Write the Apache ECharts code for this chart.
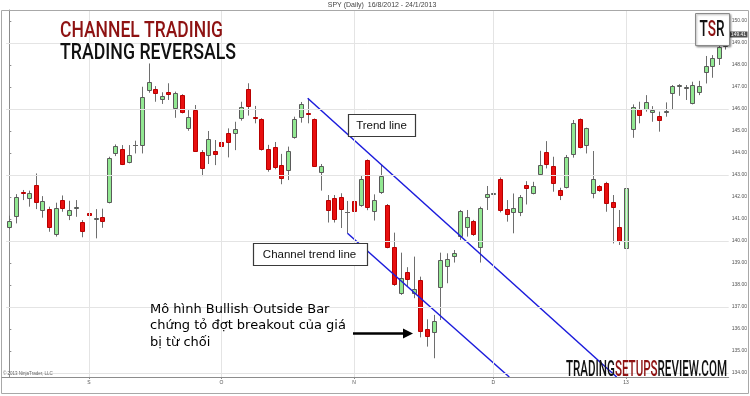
<!DOCTYPE html>
<html><head><meta charset="utf-8">
<script src="https://cdn.jsdelivr.net/npm/echarts@6/dist/echarts.min.js"></script>
<style>html,body{margin:0;padding:0;background:#fff}#c{width:750px;height:396px}</style>
</head><body><div id="c"></div>
<script>
// ---- data (SPY daily, 16/8/2012 - 24/1/2013) ----
const opens = [140.62,141.15,142.24,141.97,142.53,141.41,141.47,140.30,141.86,141.18,141.51,140.88,141.29,141.02,141.07,141.76,144.01,144.18,143.57,144.37,
144.36,146.86,146.91,146.47,146.77,146.03,146.65,145.12,145.95,144.06,143.89,144.09,144.50,144.91,144.89,145.60,146.91,145.62,145.53,144.18,
144.29,143.46,143.23,144.74,145.62,145.80,145.55,143.15,141.87,141.94,142.02,141.32,141.84,141.65,143.68,141.37,142.21,141.64,139.71,137.62,
138.58,137.62,138.23,136.00,135.88,137.90,138.88,139.32,140.23,140.65,140.91,139.74,141.99,142.12,142.80,141.45,141.33,141.33,142.54,142.16,
143.03,144.03,143.42,142.33,142.44,143.97,145.53,144.36,142.16,142.48,142.65,141.79,140.65,139.66,145.09,145.98,146.00,145.85,145.69,145.88,
146.71,147.03,146.94,146.27,146.75,147.66,147.97,148.33,148.85];
const highs = [141.15,142.13,142.32,142.29,143.07,142.04,141.56,141.74,142.07,141.83,141.86,140.95,141.82,141.45,141.47,143.83,144.39,144.36,144.36,144.56,
147.01,148.07,147.04,146.76,147.17,146.79,146.67,145.95,146.18,144.13,145.00,144.59,145.68,145.12,145.42,146.33,147.17,146.14,145.58,144.37,
144.50,143.96,144.29,145.65,146.32,146.49,145.57,143.50,142.09,142.09,142.17,141.82,142.05,143.00,143.71,142.12,143.46,141.68,140.38,139.47,
138.81,139.29,138.38,136.44,136.64,139.47,139.44,139.59,141.41,141.41,140.96,141.56,142.50,142.39,142.89,141.86,142.16,142.09,142.72,142.69,
144.10,144.54,143.83,142.42,143.91,145.50,145.57,145.15,144.09,142.54,142.69,142.09,141.41,142.57,146.21,146.33,146.63,146.13,145.88,146.30,
147.09,147.13,147.09,147.24,147.28,148.41,148.45,149.14,149.50];
const lows = [140.54,140.80,141.86,141.56,141.45,141.06,140.42,140.20,141.33,140.95,141.10,140.17,140.35,140.12,140.60,141.71,143.86,143.45,143.53,143.98,
143.98,146.74,146.33,146.23,146.41,145.60,145.80,145.01,144.06,142.95,143.50,143.45,144.03,143.80,144.13,145.47,145.70,145.35,144.11,143.15,
143.26,142.58,142.77,144.65,145.38,145.35,143.38,142.29,140.84,140.84,140.59,140.35,140.68,141.56,141.40,140.93,142.14,139.67,137.96,137.55,
137.93,137.40,135.62,135.20,134.67,136.41,138.08,139.02,140.05,140.20,140.23,139.02,141.41,141.63,141.30,140.88,140.35,141.13,141.66,142.12,
142.97,143.30,142.24,141.86,142.39,143.79,144.21,143.98,141.94,142.24,141.33,139.89,139.82,139.54,144.69,145.35,145.88,145.42,144.97,145.65,
145.98,146.60,146.41,146.21,146.63,147.16,147.42,148.00,148.70];
const closes = [140.92,142.00,142.16,142.20,141.76,141.80,140.65,141.51,141.51,141.41,141.54,140.47,141.17,141.03,140.89,143.76,144.33,143.50,143.91,144.38,
146.56,147.21,146.74,146.60,146.68,146.71,145.85,145.63,144.09,143.30,144.62,143.97,144.33,144.48,145.09,146.10,146.12,145.60,144.17,143.26,
143.35,142.88,144.11,145.55,146.23,145.79,143.41,143.41,141.41,141.02,141.44,141.31,141.37,142.84,141.56,141.87,142.96,139.71,138.03,138.31,
138.26,137.81,135.93,135.70,136.38,139.14,139.18,139.47,141.38,141.08,140.30,141.49,142.14,142.16,141.41,141.22,141.51,142.01,142.39,142.50,
143.45,143.48,142.62,142.09,143.83,145.38,144.27,145.12,142.80,142.33,141.74,141.56,140.00,142.42,146.07,145.72,146.33,145.97,145.51,145.91,
147.06,147.07,147.01,147.09,147.06,147.97,148.33,148.83,149.41];
const categories = opens.map((_, i) => 'bar' + (i + 1));
const xTickIndex = [12, 32, 52, 73, 93];
const xTickLabels = ['S', 'O', 'N', 'D', '13'];
const yTickValues = [134,135,136,137,138,139,140,141,142,143,144,145,146,147,148,149,150];
const yGridValues = [149, 146, 143, 140, 137, 134];
// trend lines: [bar index, price]
const trendLine = [[45, 146.49], [91.6, 133.82]];
const channelLine = [[51, 140.35], [75.4, 133.82]];
const lastPrice = closes[closes.length - 1];

const ohlc = opens.map((o, i) => [i, o, closes[i], lows[i], highs[i]]);
const N = opens.length;

const chart = echarts.init(document.getElementById('c'), null, {renderer: 'canvas'});

function renderCandle(params, api) {
  const i = api.value(0), o = api.value(1), c = api.value(2), l = api.value(3), h = api.value(4);
  const po = api.coord([i, o]), pc = api.coord([i, c]);
  const yl = api.coord([i, l])[1], yh = api.coord([i, h])[1];
  const cx = Math.round(po[0]);
  const up = c >= o;
  const children = [{type: 'line', shape: {x1: cx + 0.5, y1: yh, x2: cx + 0.5, y2: yl},
    style: {stroke: '#6e6e6e', lineWidth: 1}}];
  const top = Math.round(Math.min(po[1], pc[1])), bot = Math.round(Math.max(po[1], pc[1]));
  if (bot - top < 1) {
    children.push({type: 'line', shape: {x1: cx - 2, y1: top + 0.5, x2: cx + 3, y2: top + 0.5},
      style: {stroke: '#666', lineWidth: 1}});
  } else {
    children.push({type: 'rect', shape: {x: cx - 2 + 0.5, y: top + 0.5, width: 4, height: bot - top},
      style: {fill: up ? '#92e892' : '#e80f0f', stroke: up ? '#5a5a5a' : '#b80000', lineWidth: 1}});
  }
  return {type: 'group', children};
}

const option = {
  animation: false,
  grid: {left: 6, right: 21, top: 10, bottom: 19},
  xAxis: [{
    type: 'category', data: categories, boundaryGap: true,
    axisLine: {show: true, lineStyle: {color: '#8c8c8c', width: 1}},
    axisTick: {show: true, alignWithLabel: true, length: 2, interval: (i) => xTickIndex.includes(i), lineStyle: {color: '#8c8c8c'}},
    axisLabel: {interval: (i) => xTickIndex.includes(i), formatter: (v, i) => { const k = xTickIndex.indexOf(i); return k >= 0 ? xTickLabels[k] : ''; },
      fontSize: 5, color: '#555', margin: 3, fontFamily: 'Liberation Sans'},
    splitLine: {show: false}
  }, {
    type: 'value', min: -0.5, max: N - 0.5, show: false
  }],
  yAxis: {
    type: 'value', position: 'right', min: 133.818, max: 150.5, scale: true,
    axisLine: {show: true, lineStyle: {color: '#8c8c8c'}},
    axisTick: {show: true, length: 2, customValues: yTickValues, lineStyle: {color: '#8c8c8c'}},
    axisLabel: {customValues: yTickValues, formatter: (v) => v.toFixed(2), fontSize: 5, color: '#555', margin: 3, fontFamily: 'Liberation Sans'},
    splitLine: {show: false}
  },
  series: [{
    type: 'line', xAxisIndex: 1, data: [], z: 1, silent: true,
    markLine: {silent: true, symbol: 'none', label: {show: false}, animation: false,
      lineStyle: {color: '#e4e4e4', type: 'solid', width: 1},
      data: yGridValues.map(v => ({yAxis: v})).concat(xTickIndex.map(i => ({xAxis: i})))}
  }, {
    type: 'custom', xAxisIndex: 0, renderItem: renderCandle, data: ohlc, z: 2,
    encode: {x: 0, y: [1, 2, 3, 4]}
  }, {
    type: 'line', xAxisIndex: 1, data: trendLine, symbol: 'none', z: 3,
    lineStyle: {color: '#1c1cdc', width: 1.5}
  }, {
    type: 'line', xAxisIndex: 1, data: channelLine, symbol: 'none', z: 3,
    lineStyle: {color: '#1c1cdc', width: 1.5}
  }]
};
chart.setOption(option);

// ---- decorations ----
const mc = document.createElement('canvas').getContext('2d');
function tw(t, font) { mc.font = font; return mc.measureText(t).width; }
const condFont = '500 22px Roboto';
function condensed(pieces, x0, yMid, target) {
  const total = pieces.reduce((s, p) => s + tw(p[0], condFont), 0);
  const s = target / total;
  let cur = x0;
  return pieces.map(p => {
    const el = {type: 'text', x: cur, y: yMid, scaleX: s, z: 100,
      style: {text: p[0], fill: p[1], font: condFont, textAlign: 'left', textVerticalAlign: 'middle'}};
    cur += tw(p[0], condFont) * s;
    return el;
  });
}
const RED = '#8e1212';
const lastY = chart.convertToPixel({yAxisIndex: 0}, lastPrice);
const annFont = '13px "DejaVu Sans"';
const boxFont = '11.5px "Liberation Sans"';
const elements = [
  {type: 'rect', shape: {x: 1.5, y: 10.5, width: 747, height: 383}, style: {fill: 'none', stroke: '#a8a8a8', lineWidth: 1}, z: 50},
  {type: 'line', shape: {x1: 1.5, y1: 377.5, x2: 729, y2: 377.5}, style: {stroke: '#8c8c8c', lineWidth: 1}, z: 50},
  {type: 'text', x: 382, y: 5, z: 50, style: {text: 'SPY (Daily)  16/8/2012 - 24/1/2013', font: '7px "Liberation Sans"', fill: '#444', textAlign: 'center', textVerticalAlign: 'middle'}},
  {type: 'text', x: 3, y: 374, z: 50, style: {text: '© 2013 NinjaTrader, LLC', font: '4.5px "Liberation Sans"', fill: '#666', textAlign: 'left', textVerticalAlign: 'middle'}},
  // last price marker on axis
  {type: 'rect', shape: {x: 729.5, y: Math.round(lastY) - 2.5, width: 18, height: 6}, style: {fill: '#505050'}, z: 60},
  {type: 'text', x: 738.5, y: Math.round(lastY) + 0.5, z: 61, style: {text: lastPrice.toFixed(2), font: '5px "Liberation Sans"', fill: '#fff', textAlign: 'center', textVerticalAlign: 'middle'}},
  // TSR logo box
  {type: 'rect', shape: {x: 695.5, y: 13.5, width: 34, height: 32}, style: {fill: '#fff', stroke: '#8a8a8a', lineWidth: 1, shadowBlur: 2, shadowOffsetX: 1, shadowOffsetY: 1, shadowColor: 'rgba(0,0,0,0.35)'}, z: 90},
  // annotation boxes
  {type: 'rect', shape: {x: 348.5, y: 114.5, width: 67, height: 22}, style: {fill: '#fff', stroke: '#3a3a3a', lineWidth: 1.2}, z: 90},
  {type: 'text', x: 381.5, y: 126, z: 91, style: {text: 'Trend line', font: boxFont, fill: '#111', textAlign: 'center', textVerticalAlign: 'middle'}},
  {type: 'rect', shape: {x: 253.5, y: 243.5, width: 114, height: 22}, style: {fill: '#fff', stroke: '#3a3a3a', lineWidth: 1.2}, z: 90},
  {type: 'text', x: 309.5, y: 255, z: 91, style: {text: 'Channel trend line', font: boxFont, fill: '#111', textAlign: 'center', textVerticalAlign: 'middle'}},
  // Vietnamese note
  {type: 'text', x: 150, y: 309.5, z: 91, style: {text: 'Mô hình Bullish Outside Bar', font: annFont, fill: '#000', textAlign: 'left', textVerticalAlign: 'middle'}},
  {type: 'text', x: 150, y: 326, z: 91, style: {text: 'chứng tỏ đợt breakout của giá', font: annFont, fill: '#000', textAlign: 'left', textVerticalAlign: 'middle'}},
  {type: 'text', x: 150, y: 342.5, z: 91, style: {text: 'bị từ chối', font: annFont, fill: '#000', textAlign: 'left', textVerticalAlign: 'middle'}},
  // arrow
  {type: 'line', shape: {x1: 353, y1: 333.5, x2: 405, y2: 333.5}, style: {stroke: '#000', lineWidth: 2.5}, z: 91},
  {type: 'polygon', shape: {points: [[403, 328.5], [413, 333.5], [403, 338.5]]}, style: {fill: '#000'}, z: 91}
];
const titles = []
  .concat(condensed([['CHANNEL TRADINIG', RED]], 60, 31.5, 163))
  .concat(condensed([['TRADING REVERSALS', '#111']], 60, 53.5, 176))
  .concat(condensed([['T', '#111'], ['S', RED], ['R', '#111']], 699.5, 30, 25))
  .concat(condensed([['TRADING', '#111'], ['SETUPS', RED], ['REVIEW.COM', '#111']], 566, 370.5, 161));
chart.setOption({graphic: {elements: elements.concat(titles)}});
</script>
</body></html>
